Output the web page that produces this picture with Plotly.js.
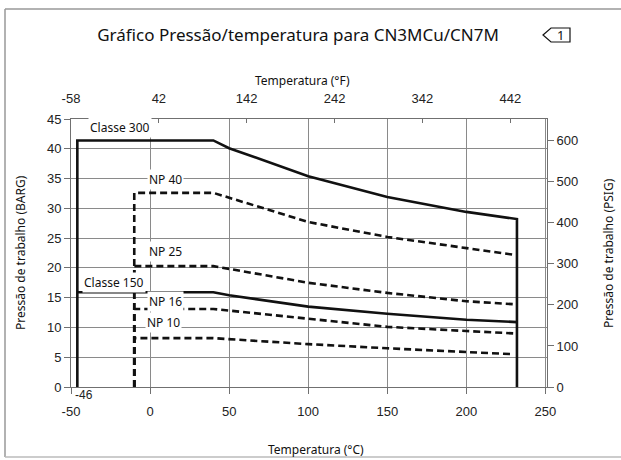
<!DOCTYPE html>
<html>
<head>
<meta charset="utf-8">
<script src="https://cdn.plot.ly/plotly-3.0.1.min.js"></script>
<style>html,body{margin:0;padding:0;background:#fff;}#chart{width:621px;height:460px;}</style>
</head>
<body>
<div id="chart"></div>
<script>
// ---- data (°C, bar) ----
const tempClasse300 = [-46, -46, 40, 50, 100, 150, 200, 232, 232];
const presClasse300 = [0, 41.4, 41.4, 40.1, 35.4, 31.9, 29.4, 28.2, 0];
const tempClasse150 = [-46, 40, 50, 100, 150, 200, 232];
const presClasse150 = [15.9, 15.9, 15.4, 13.5, 12.3, 11.3, 10.9];
const tempNP = [-10, -10, 40, 100, 150, 200, 230];
const presNP40 = [0, 32.6, 32.6, 27.7, 25.2, 23.3, 22.2];
const presNP25 = [0, 20.3, 20.3, 17.5, 15.8, 14.4, 13.9];
const presNP16 = [0, 13.1, 13.1, 11.5, 10.1, 9.4, 9.0];
const presNP10 = [0, 8.2, 8.2, 7.2, 6.5, 5.9, 5.5];
const cTicks = [-50, 0, 50, 100, 150, 200, 250];
const cTickText = ['-50', '0', '50', '100', '150', '200', '250'];
const fTicks = [-58, 42, 142, 242, 342, 442];
const fTickText = ['-58', '42', '142', '242', '342', '442'];
const barTicks = [0, 5, 10, 15, 20, 25, 30, 35, 40, 45];
const psiTicks = [0, 100, 200, 300, 400, 500, 600];

const xRangeC = [-50, 251];
const yRangeBar = [0, 45];
const xRangeF = xRangeC.map(c => c * 1.8 + 32);
const yRangePsi = yRangeBar.map(b => b * 14.5038);

const solid = {color: '#111', width: 2.6};
const dashed = {color: '#111', width: 2.6, dash: '7px,4px'};

const traces = [
  {x: tempClasse300, y: presClasse300, mode: 'lines', line: solid, name: 'Classe 300'},
  {x: tempClasse150, y: presClasse150, mode: 'lines', line: solid, name: 'Classe 150'},
  {x: tempNP, y: presNP40, mode: 'lines', line: dashed, name: 'NP 40'},
  {x: tempNP, y: presNP25, mode: 'lines', line: dashed, name: 'NP 25'},
  {x: tempNP, y: presNP16, mode: 'lines', line: dashed, name: 'NP 16'},
  {x: tempNP, y: presNP10, mode: 'lines', line: dashed, name: 'NP 10'},
  {x: [fTicks[0]], y: [psiTicks[0]], xaxis: 'x2', yaxis: 'y2', mode: 'markers',
   marker: {opacity: 0}, hoverinfo: 'skip', showlegend: false}
];

const tickFont = {family: 'Liberation Sans, Arial, sans-serif', size: 13, color: '#222'};
const textFont = {family: 'Noto Sans, Open Sans, sans-serif', size: 12, color: '#111'};
const gridC = '#8a8a8a';
const lineC = '#707070';

function lbl(x, y, text) {
  return {x: x, y: y, xref: 'x', yref: 'y', text: text, showarrow: false,
          font: textFont, bgcolor: '#fff', borderpad: 1};
}

const L = 71, R = 547, T = 119, B = 387;
const px = v => (v - L) / (R - L);
const py = v => (B - v) / (B - T);

const layout = {
  width: 621, height: 460,
  margin: {l: L, r: 621 - R, t: T, b: 460 - B},
  paper_bgcolor: '#fff', plot_bgcolor: '#fff',
  showlegend: false,
  title: {text: 'Gráfico Pressão/temperatura para CN3MCu/CN7M',
          font: {family: 'Noto Sans, Open Sans, sans-serif', size: 17, color: '#111'},
          x: 0.48, xref: 'container', xanchor: 'center',
          y: 1 - 35 / 460, yref: 'container', yanchor: 'middle'},
  xaxis: {range: xRangeC, tickvals: cTicks, ticktext: cTickText, ticks: 'outside', ticklen: 6, tickcolor: lineC,
          showgrid: true, gridcolor: gridC, gridwidth: 1, zeroline: false,
          showline: true, linecolor: lineC, linewidth: 1, tickfont: tickFont,
          ticklabelstandoff: 6},
  yaxis: {range: yRangeBar, tickvals: barTicks, ticks: 'outside', ticklen: 6, tickcolor: lineC,
          showgrid: true, gridcolor: gridC, gridwidth: 1, zeroline: false,
          showline: true, linecolor: lineC, linewidth: 1, tickfont: tickFont},
  xaxis2: {range: xRangeF, tickvals: fTicks, ticktext: fTickText, overlaying: 'x', side: 'top', anchor: 'y',
           ticks: 'inside', ticklen: 4, tickcolor: lineC, showgrid: false, zeroline: false,
           showline: true, linecolor: lineC, linewidth: 1, tickfont: tickFont,
           ticklabelstandoff: 10},
  yaxis2: {range: yRangePsi, tickvals: psiTicks, overlaying: 'y', side: 'right', anchor: 'x',
           ticks: 'outside', ticklen: 6, tickcolor: lineC, showgrid: false, zeroline: false,
           showline: true, linecolor: lineC, linewidth: 1, tickfont: tickFont},
  annotations: [
    lbl(-19, 43.6, 'Classe 300'),
    lbl(9.5, 34.9, 'NP 40'),
    lbl(9.5, 22.8, 'NP 25'),
    lbl(-22.8, 17.5, 'Classe 150'),
    lbl(9.5, 14.4, 'NP 16'),
    lbl(8.2, 10.75, 'NP 10'),
    {x: -46, y: 0, xref: 'x', yref: 'y', text: '-46', showarrow: false,
     font: {family: 'Liberation Sans, Arial, sans-serif', size: 12, color: '#222'},
     xanchor: 'left', yanchor: 'top', xshift: -4, yshift: 1},
    {x: px(316), y: py(449), xref: 'paper', yref: 'paper', text: 'Temperatura (°C)',
     showarrow: false, font: textFont, xanchor: 'center', yanchor: 'middle'},
    {x: px(302), y: py(80), xref: 'paper', yref: 'paper', text: 'Temperatura (°F)',
     showarrow: false, font: textFont, xanchor: 'center', yanchor: 'middle'},
    {x: px(20), y: py(253), xref: 'paper', yref: 'paper', text: 'Pressão de trabalho (BARG)',
     showarrow: false, font: textFont, textangle: -90, xanchor: 'center', yanchor: 'middle'},
    {x: px(608), y: py(253), xref: 'paper', yref: 'paper', text: 'Pressão de trabalho (PSIG)',
     showarrow: false, font: textFont, textangle: -90, xanchor: 'center', yanchor: 'middle'},
    {x: px(560), y: py(35), xref: 'paper', yref: 'paper', text: '1',
     showarrow: false, font: {family: 'Noto Sans, sans-serif', size: 13, color: '#111'},
     xanchor: 'center', yanchor: 'middle'}
  ],
  shapes: [
    // page frame
    {type: 'line', xref: 'paper', yref: 'paper', x0: px(5), x1: px(621), y0: py(9), y1: py(9),
     line: {color: '#999', width: 1.5}},
    {type: 'line', xref: 'paper', yref: 'paper', x0: px(5), x1: px(5), y0: py(9), y1: py(457),
     line: {color: '#999', width: 1.5}},
    {type: 'line', xref: 'paper', yref: 'paper', x0: px(5), x1: px(621), y0: py(457), y1: py(457),
     line: {color: '#bbb', width: 1.5}},
    // note tag icon
    {type: 'path', xref: 'paper', yref: 'paper',
     path: 'M ' + px(543) + ' ' + py(35) + ' L ' + px(551) + ' ' + py(28) + ' L ' + px(570) + ' ' + py(28) +
           ' L ' + px(570) + ' ' + py(42) + ' L ' + px(551) + ' ' + py(42) + ' Z',
     line: {color: '#111', width: 1.2}}
  ]
};

Plotly.newPlot('chart', traces, layout, {staticPlot: true, displayModeBar: false});
</script>
</body>
</html>
